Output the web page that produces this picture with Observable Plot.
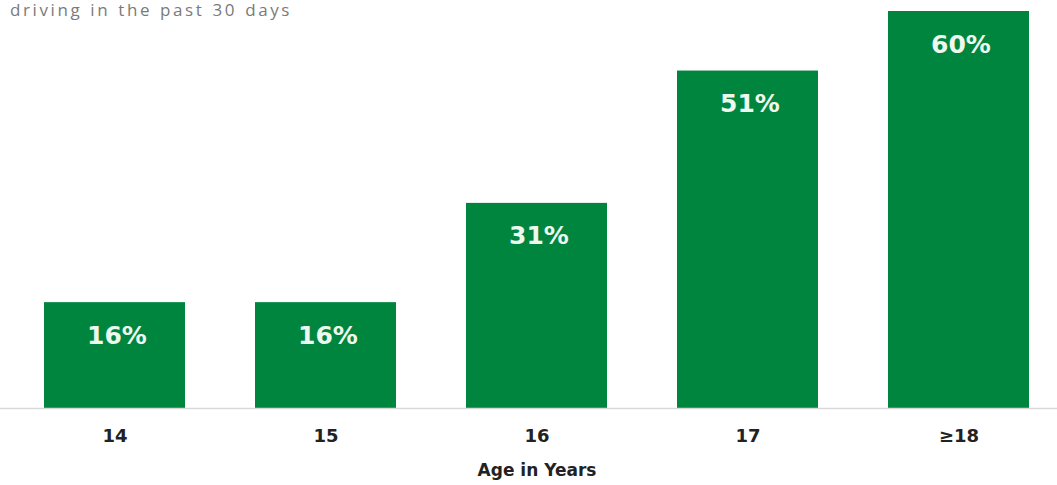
<!DOCTYPE html>
<html>
<head>
<meta charset="utf-8">
<script src="https://cdn.jsdelivr.net/npm/d3@7"></script>
<script src="https://cdn.jsdelivr.net/npm/@observablehq/plot@0.6"></script>
<style>
  html, body { margin: 0; padding: 0; background: #fff; overflow: hidden; }
  #wrap { position: relative; width: 1057px; height: 485px; }
  #sub { position: absolute; left: 10px; top: 0px; line-height: 20px; font-family: "Open Sans", sans-serif; font-size: 17px; color: #7a7a7a; letter-spacing: 2.6px; word-spacing: 1px; white-space: nowrap; }
  svg { display: block; }
</style>
</head>
<body>
<div id="wrap">
  <div id="chart"></div>
  <div id="sub">driving in the past 30 days</div>
</div>
<script>
const ages = ["14", "15", "16", "17", "≥18"];
const percents = [16, 16, 31, 51, 60];
const xTitle = "Age in Years";

const data = ages.map((a, i) => ({age: a, pct: percents[i]}));
const green = "#00853f";

const chart = Plot.plot({
  width: 1057,
  height: 485,
  marginTop: 11,
  marginBottom: 77,
  marginLeft: 23,
  marginRight: 7,
  style: {fontFamily: "'DejaVu Sans', Verdana, sans-serif", background: "#fff"},
  x: {domain: ages, paddingInner: 0.333, paddingOuter: 0.1, label: null},
  y: {domain: [0, 60], axis: null},
  marks: [
    Plot.barY(data, {x: "age", y: "pct", fill: green}),
    Plot.ruleY([0], {stroke: "#d9d9d9", strokeWidth: 1.5, insetLeft: -23, insetRight: -7}),
    Plot.text(data, {x: "age", y: "pct", text: d => d.pct + "%", dy: 33, dx: 2, fill: "#eef8ee", fontSize: 25, fontWeight: "bold", style: "letter-spacing: 3.5px"}),
    Plot.axisX({tickSize: 0, tickPadding: 21, fontSize: 18, fontWeight: "bold", fill: "#222", label: null, style: "letter-spacing: 1px"}),
    Plot.text([xTitle], {frameAnchor: "bottom", dy: 67, fontSize: 17, fontWeight: "bold", fill: "#222"})
  ]
});
document.getElementById("chart").appendChild(chart);
</script>
</body>
</html>
